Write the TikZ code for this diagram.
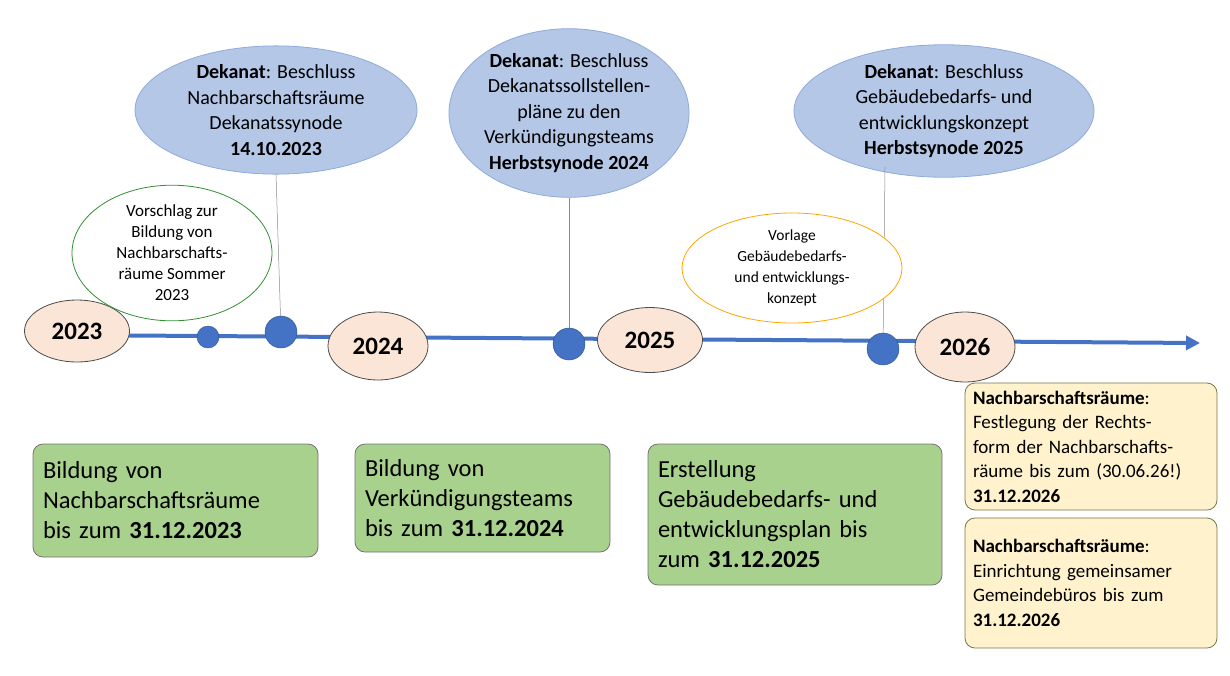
\documentclass[tikz,border=0pt]{standalone}
\usepackage{fontspec}
\setmainfont{Carlito}
\usetikzlibrary{shapes.geometric,arrows.meta}
\definecolor{peach}{HTML}{FBE5D6}
\definecolor{dot}{HTML}{4472C4}
\definecolor{lblue}{HTML}{B4C7E7}
\definecolor{lgreen}{HTML}{A9D18E}
\definecolor{lyel}{HTML}{FFF2CC}
\tikzset{
 year/.style={ellipse,draw=black!70,fill=peach,line width=0.8pt,font=\fontsize{25}{30}\selectfont\bfseries,inner sep=0pt},
 tdot/.style={circle,draw=dot!70!black,fill=dot,inner sep=0pt},
 big/.style={ellipse,draw=dot!60,fill=lblue,line width=0.8pt,align=center,font=\fontsize{20}{25.5}\selectfont,inner sep=0pt},
 gbox/.style={draw=black!55,fill=lgreen,rounded corners=10pt,line width=0.8pt,align=left,text width=#1,font=\fontsize{24.5}{30}\selectfont,inner sep=0pt},
 ybox/.style={draw=black!60!yellow,fill=lyel,rounded corners=10pt,line width=0.8pt,align=left,text width=236pt,font=\fontsize{19}{24.5}\selectfont,inner sep=0pt},
 thin/.style={draw=black!45,line width=0.5pt}
}
\begin{document}
\begin{tikzpicture}[x=1pt,y=-1pt]
\useasboundingbox (0,0) rectangle (1230,675);
\coordinate (ls) at (60,335);
\coordinate (le) at (1200,343);
\draw[line width=4pt,dot,-{Triangle[length=14pt,width=14pt]}] (ls) -- (le);
\node[year,minimum width=105pt,minimum height=62pt] (y23) at (77,331) {2023};
\node[year,minimum width=100pt,minimum height=68pt] (y24) at (378,346) {2024};
\node[year,minimum width=105pt,minimum height=65pt] (y25) at (650,340) {2025};
\node[year,minimum width=100pt,minimum height=70pt] (y26) at (965,347) {2026};
\node[tdot,minimum size=22pt] (d0) at (208,337) {};
\node[tdot,minimum size=32pt] (d1) at (281,332) {};
\node[tdot,minimum size=32pt] (d2) at (569,344) {};
\node[tdot,minimum size=32pt] (d3) at (883,349) {};
\node[big,minimum width=282pt,minimum height=112pt] (e1) at (276,110) {\textbf{Dekanat}: Beschluss\\Nachbarschaftsräume\\Dekanatssynode\\\textbf{14.10.2023}};
\node[big,minimum width=230pt,minimum height=158pt] (e2) at (569,113) {\textbf{Dekanat}: Beschluss\\Dekanatssollstellen-\\pläne zu den\\Verkündigungsteams\\\textbf{Herbstsynode 2024}};
\node[big,minimum width=300pt,minimum height=122pt] (e3) at (944,111) {\textbf{Dekanat}: Beschluss\\Gebäudebedarfs- und\\entwicklungskonzept\\\textbf{Herbstsynode 2025}};
\coordinate (e3b) at (885,167);
\draw[thin] (d1) -- (e1.south);
\draw[thin] (d2) -- (e2.south);
\draw[thin] (d3) -- (e3b);
\node[ellipse,draw=green!45!black!80,fill=white,line width=0.8pt,minimum width=200pt,minimum height=118pt,align=center,font=\fontsize{17}{21}\selectfont,inner sep=0pt] (g) at (172,253) {Vorschlag zur\\Bildung von\\Nachbarschafts-\\räume Sommer\\2023};
\node[ellipse,draw=orange!70!yellow,fill=white,line width=0.8pt,minimum width=220pt,minimum height=110pt,align=center,font=\fontsize{15.5}{21}\selectfont,inner sep=0pt] (o) at (792,268) {Vorlage\\Gebäudebedarfs-\\und entwicklungs-\\konzept};
\node[gbox=265pt,minimum width=285pt,minimum height=113pt] (b1) at (175.5,500.5) {Bildung von\\Nachbarschaftsräume\\bis zum \textbf{31.12.2023}};
\node[gbox=235pt,minimum width=255pt,minimum height=108pt] (b2) at (482.5,498) {Bildung von\\Verkündigungsteams\\bis zum \textbf{31.12.2024}};
\node[gbox=274pt,minimum width=294pt,minimum height=141pt] (b3) at (795,514.5) {Erstellung\\Gebäudebedarfs- und\\entwicklungsplan bis\\zum \textbf{31.12.2025}};
\node[ybox,minimum width=252pt,minimum height=127pt] (c1) at (1091,446.5) {\textbf{Nachbarschaftsräume}:\\Festlegung der Rechts-\\form der Nachbarschafts-\\räume bis zum (30.06.26!)\\\textbf{31.12.2026}};
\node[ybox,minimum width=252pt,minimum height=130pt] (c2) at (1091,583) {\textbf{Nachbarschaftsräume}:\\Einrichtung gemeinsamer\\Gemeindebüros bis zum\\\textbf{31.12.2026}};
\end{tikzpicture}
\end{document}
